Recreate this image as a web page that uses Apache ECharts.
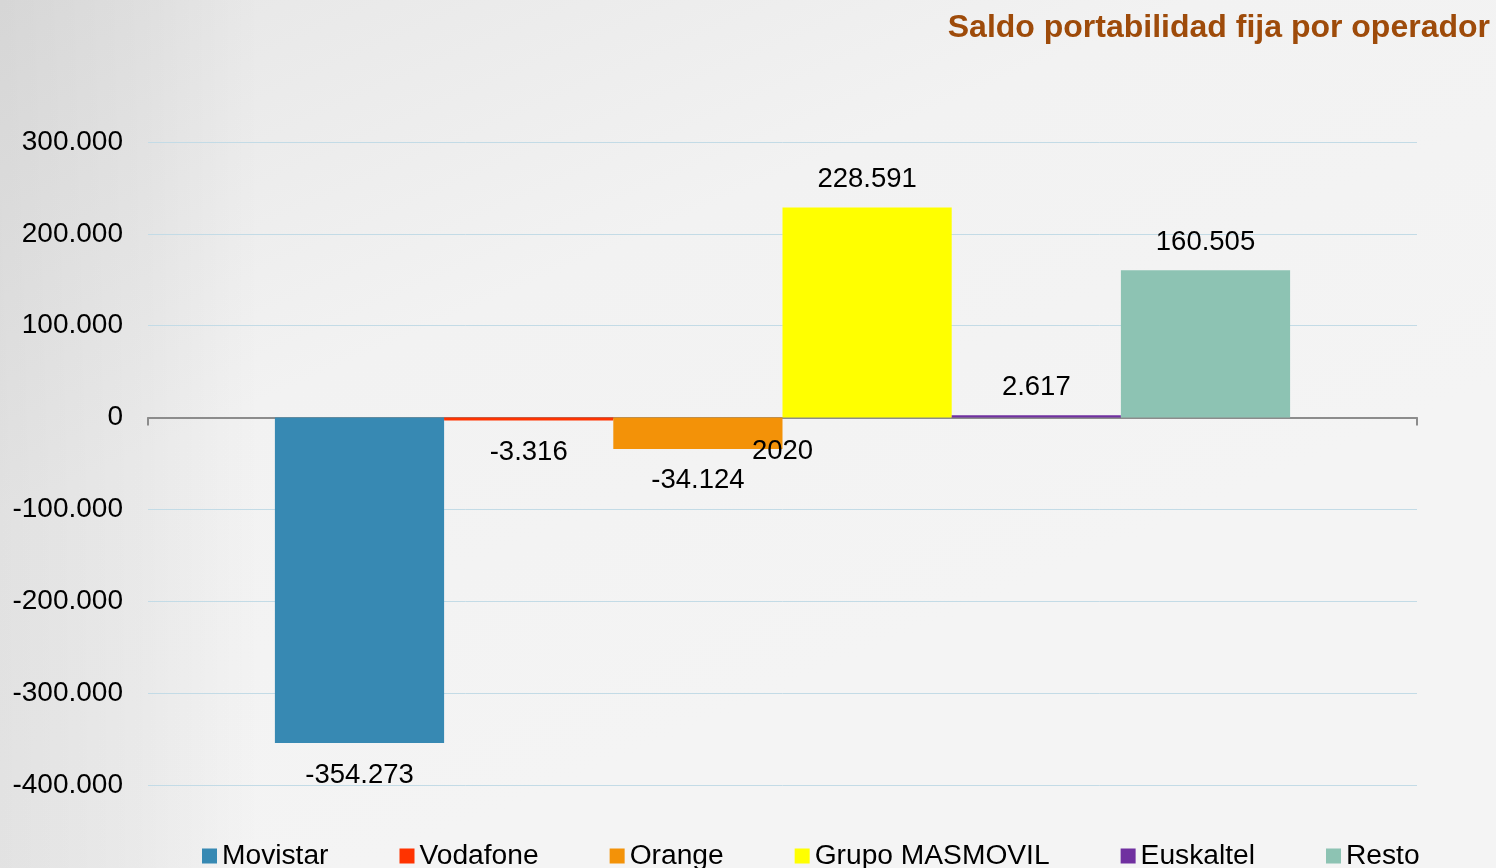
<!DOCTYPE html>
<html>
<head>
<meta charset="utf-8">
<script src="https://cdn.jsdelivr.net/npm/echarts@6/dist/echarts.min.js"></script>
<style>
    html, body { margin: 0; padding: 0; }
    #chart { width: 1496px; height: 868px; }
</style>
</head>
<body>
<div id="chart"></div>
<script>
    // datos
    var categories = ['2020'];
    var operadores = ['Movistar', 'Vodafone', 'Orange', 'Grupo MASMOVIL', 'Euskaltel', 'Resto'];
    var saldos = [-354273, -3316, -34124, 228591, 2617, 160505];
    var colores = ['#3789b3', '#ff3300', '#f39208', '#ffff00', '#7030a0', '#8dc3b3'];
    var yTicks = { min: -400000, max: 300000, interval: 100000 };

    // formato con punto de miles
    function fmt(v) {
        var s = Math.abs(v).toString().replace(/\B(?=(\d{3})+(?!\d))/g, '.');
        return (v < 0 ? '-' : '') + s;
    }

    var fontFam = '"Liberation Sans", Arial, sans-serif';
    var series = [];
    for (var i = 0; i < operadores.length; i++) {
        var v = saldos[i];
        series.push({
            name: operadores[i],
            type: 'bar',
            color: colores[i],
            barGap: 0,
            barCategoryGap: '20%',
            data: [{
                value: v,
                label: { position: v < 0 ? 'bottom' : 'top', distance: v < 0 ? 18 : 14 }
            }],
            label: {
                show: true,
                color: '#000',
                fontSize: 27.5,
                fontFamily: fontFam,
                formatter: function (p) { return fmt(p.value); }
            }
        });
    }

    var myChart = echarts.init(document.getElementById('chart'));
    myChart.setOption({
        animation: false,
        backgroundColor: {
            type: 'linear', x: 0, y: 0, x2: 0.25, y2: 1,
            colorStops: [
                { offset: 0, color: '#e6e6e6' },
                { offset: 0.5, color: '#f2f2f2' },
                { offset: 1, color: '#f4f4f4' }
            ]
        },
        graphic: [{
            // sombra izquierda del fondo
            type: 'rect',
            z: -10,
            silent: true,
            shape: { x: 0, y: 0, width: 260, height: 868 },
            style: {
                fill: {
                    type: 'linear', x: 0, y: 0, x2: 1, y2: 0,
                    colorStops: [
                        { offset: 0, color: 'rgba(0,0,0,0.07)' },
                        { offset: 0.55, color: 'rgba(0,0,0,0.04)' },
                        { offset: 1, color: 'rgba(0,0,0,0)' }
                    ]
                }
            }
        }],
        title: {
            text: 'Saldo portabilidad fija por operador',
            right: 1,
            top: 7,
            textStyle: { color: '#9e4b0a', fontSize: 32, fontWeight: 'bold', fontFamily: fontFam }
        },
        legend: {
            data: operadores,
            left: 197,
            top: 837,
            itemWidth: 15,
            itemHeight: 15,
            itemGap: 71,
            icon: 'rect',
            textStyle: { color: '#000', fontSize: 28.2, fontFamily: fontFam }
        },
        grid: { left: 148, right: 79, top: 142, bottom: 83 },
        xAxis: {
            type: 'category',
            data: categories,
            axisLine: { onZero: true, lineStyle: { color: '#8c8c8c', width: 2 } },
            axisTick: { show: true, length: 8, lineStyle: { color: '#8c8c8c', width: 2 } },
            axisLabel: { show: false }
        },
        yAxis: {
            type: 'value',
            min: yTicks.min,
            max: yTicks.max,
            interval: yTicks.interval,
            axisLine: { show: false },
            axisTick: { show: false },
            splitLine: { lineStyle: { color: '#c3dbe6', width: 1 } },
            axisLabel: {
                color: '#000', fontSize: 28, fontFamily: fontFam, margin: 25,
                padding: [5, 0, 0, 0],
                formatter: function (v) { return fmt(v); }
            }
        },
        series: series
    });

    // etiqueta de la categoría junto al eje en cero
    var pos = myChart.convertToPixel({ xAxisIndex: 0, yAxisIndex: 0 }, [categories[0], 0]);
    myChart.setOption({
        graphic: [{}, {
            type: 'text',
            z: 100,
            x: pos[0],
            y: pos[1] + 34,
            style: {
                text: categories[0],
                fill: '#000',
                font: '27.5px ' + fontFam,
                align: 'center',
                verticalAlign: 'middle'
            }
        }]
    });
</script>
</body>
</html>
